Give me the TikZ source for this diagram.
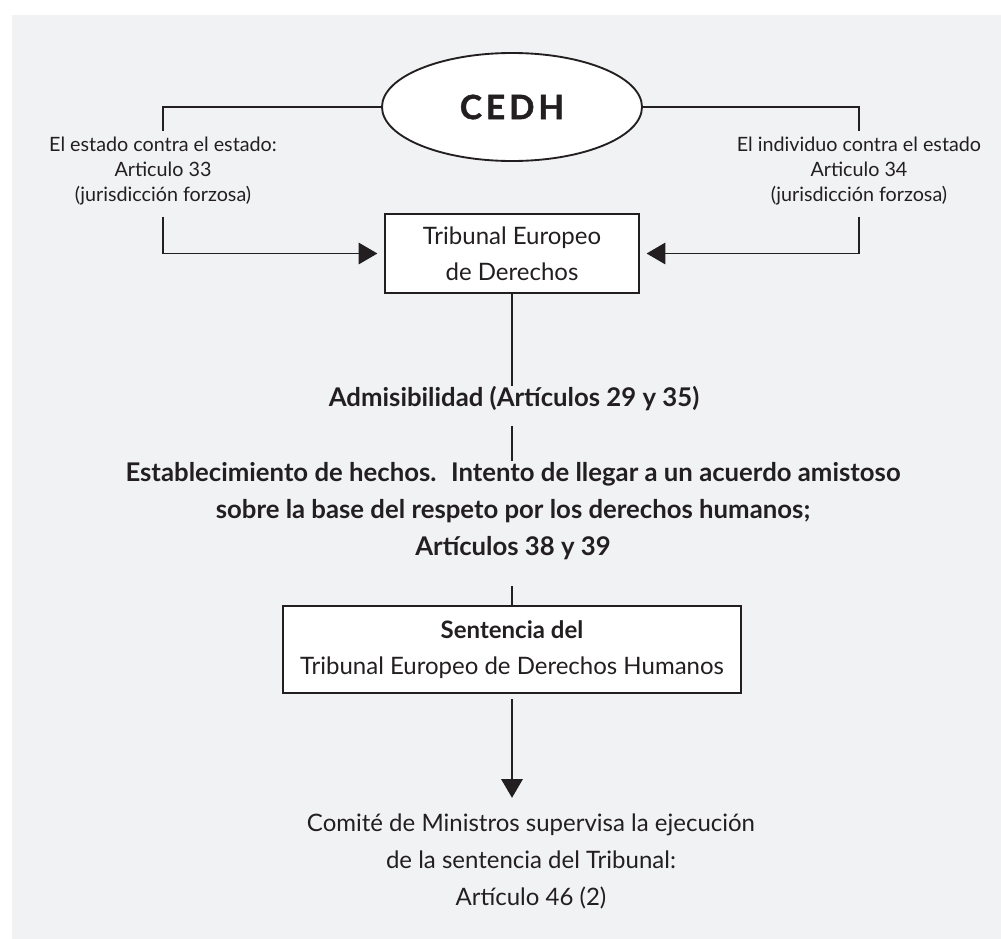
\documentclass[tikz,border=0pt]{standalone}
\usepackage{fontspec}
\setmainfont{Lato}
\usetikzlibrary{shapes.geometric,arrows.meta,positioning}

\definecolor{fondo}{HTML}{F1F2F4}
\definecolor{tinta}{HTML}{231F20}

\begin{document}
\begin{tikzpicture}[x=0.75pt,y=-0.75pt,line width=1.4pt,
	caja/.style={draw=tinta,fill=white,rectangle,inner sep=0pt,align=center,text=tinta},
	texto/.style={align=center,inner sep=0pt,text=tinta},
	flecha/.style={-{Triangle[length=14pt,width=16pt]}},
	linea/.style={draw=tinta}]

	% fondo
	\useasboundingbox (0,0) rectangle (1001,939);
	\fill[fondo] (12,15) rectangle (1001,939);

	% nodos
	\node[ellipse,draw=tinta,fill=white,minimum width=195pt,minimum height=81pt,text=tinta,
		font=\fontsize{25}{25}\selectfont\bfseries\addfontfeatures{LetterSpace=12,FakeBold=1.5}]
		(cedh) at (512,107) {CEDH};

	\node[texto,font=\fontsize{14.8}{18.75}\selectfont] (estado) at (163,171)
		{El estado contra el estado:\\Articulo 33\\(jurisdicción forzosa)};
	\node[texto,font=\fontsize{14.8}{18.75}\selectfont] (individuo) at (859,171)
		{El individuo contra el estado\\Articulo 34\\(jurisdicción forzosa)};

	\node[caja,minimum width=190.5pt,minimum height=59.25pt,
		font=\fontsize{18}{27}\selectfont] (tribunal) at (512,253.5)
		{Tribunal Europeo\\de Derechos};

	\node[texto,font=\fontsize{19.3}{28}\selectfont\bfseries] (admis) at (514,399)
		{Admisibilidad (Artículos 29 y 35)};

	\node[texto,font=\fontsize{19.3}{28}\selectfont\bfseries] (hechos) at (513,511)
		{Establecimiento de hechos.~ Intento de llegar a un acuerdo amistoso\\
		sobre la base del respeto por los derechos humanos;\\
		Artículos 38 y 39};

	\node[caja,minimum width=344pt,minimum height=65pt,
		font=\fontsize{18}{27}\selectfont] (sentencia) at (512,649.5)
		{{\bfseries Sentencia del}\\Tribunal Europeo de Derechos Humanos};

	\node[texto,font=\fontsize{18}{27.75}\selectfont] (comite) at (531,861)
		{Comité de Ministros supervisa la ejecución\\
		de la sentencia del Tribunal:\\
		Artículo 46 (2)};

	% conectores
	\draw[linea] (cedh.west) -| ([yshift=4pt]estado.north);
	\draw[linea] (cedh.east) -| ([yshift=4pt]individuo.north);
	\draw[linea,flecha,shorten >=5pt] ([yshift=-8pt]estado.south) |- (tribunal.west);
	\draw[linea,flecha,shorten >=5pt] ([yshift=-8pt]individuo.south) |- (tribunal.east);
	\draw[linea] (tribunal.south) -- (tribunal.south |- admis.north);
	\draw[linea,shorten <=10pt] (tribunal.south |- admis.south) -- (tribunal.south |- hechos.north);
	\draw[linea,shorten <=19pt] (sentencia.north |- hechos.south) -- (sentencia.north);
	\draw[linea,flecha,shorten <=4pt,shorten >=11pt] (sentencia.south) -- (sentencia.south |- comite.north);

\end{tikzpicture}
\end{document}
